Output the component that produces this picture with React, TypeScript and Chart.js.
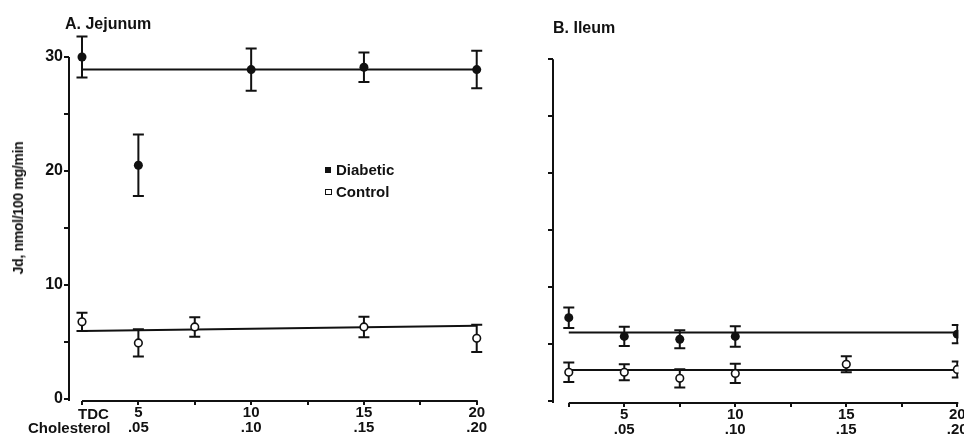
import React, { useEffect, useRef } from "react";
import { Chart, registerables } from "chart.js";

Chart.register(...registerables);

// ---- Data ----
const xTickPositions = [2.5, 5, 7.5, 10, 12.5, 15, 17.5, 20];
const xLabelPositions = [5, 10, 15, 20];
const tdcTickLabels = ["5", "10", "15", "20"];
const cholTickLabels = [".05", ".10", ".15", ".20"];
const yTickPositions = [0, 5, 10, 15, 20, 25, 30];
const yLabelPositions = [0, 10, 20, 30];
const fitX = [2.5, 20];

// A. Jejunum
const jejDiabeticX = [2.5, 5, 10, 15, 20];
const jejDiabeticY = [30, 20.5, 28.9, 29.1, 28.9];
const jejDiabeticErr = [1.8, 2.7, 1.85, 1.3, 1.65];
const jejControlX = [2.5, 5, 7.5, 15, 20];
const jejControlY = [6.75, 4.9, 6.3, 6.3, 5.3];
const jejControlErr = [0.8, 1.2, 0.85, 0.9, 1.2];
const jejDiabeticFit = [28.9, 28.9];
const jejControlFit = [5.95, 6.4];

// B. Ileum
const ilDiabeticX = [2.5, 5, 7.5, 10, 20];
const ilDiabeticY = [7.3, 5.65, 5.4, 5.65, 5.85];
const ilDiabeticErr = [0.9, 0.85, 0.8, 0.9, 0.8];
const ilControlX = [2.5, 5, 7.5, 10, 15, 20];
const ilControlY = [2.5, 2.5, 1.97, 2.4, 3.2, 2.75];
const ilControlErr = [0.85, 0.7, 0.8, 0.85, 0.7, 0.7];
const ilDiabeticFit = [6.0, 6.0];
const ilControlFit = [2.7, 2.7];

const INK = "#111";
const FONT = "'Liberation Sans', Arial, Helvetica, sans-serif";

const pts = (xs: number[], ys: number[]) => xs.map((x, i) => ({ x, y: ys[i] }));

const errorBarPlugin = {
  id: "errorBars",
  beforeDatasetsDraw(chart: any) {
    const { ctx, chartArea } = chart;
    const xs = chart.scales.x;
    const ys = chart.scales.y;
    ctx.save();
    ctx.beginPath();
    ctx.rect(chartArea.left, 0, chartArea.right - chartArea.left, chart.height);
    ctx.clip();
    ctx.strokeStyle = INK;
    ctx.lineWidth = 2;
    chart.data.datasets.forEach((ds: any) => {
      if (!ds.errors) return;
      ds.data.forEach((p: any, i: number) => {
        const e = ds.errors[i];
        const x = xs.getPixelForValue(p.x);
        const yt = ys.getPixelForValue(p.y + e);
        const yb = ys.getPixelForValue(p.y - e);
        ctx.beginPath();
        ctx.moveTo(x, yt);
        ctx.lineTo(x, yb);
        ctx.moveTo(x - 5.5, yt);
        ctx.lineTo(x + 5.5, yt);
        ctx.moveTo(x - 5.5, yb);
        ctx.lineTo(x + 5.5, yb);
        ctx.stroke();
      });
    });
    ctx.restore();
  },
};

const axisLinePlugin = {
  id: "axisLines",
  afterDraw(chart: any) {
    const { ctx, chartArea } = chart;
    const xs = chart.scales.x;
    const ys = chart.scales.y;
    ctx.save();
    ctx.strokeStyle = INK;
    ctx.lineWidth = 2;
    ctx.beginPath();
    ctx.moveTo(chartArea.left, ys.getPixelForValue(30));
    ctx.lineTo(chartArea.left, chartArea.bottom);
    ctx.moveTo(xs.getPixelForValue(2.5), chartArea.bottom);
    ctx.lineTo(Math.min(xs.getPixelForValue(20) + 1, chartArea.right), chartArea.bottom);
    ctx.stroke();
    ctx.restore();
  },
};

function makeConfig(opts: {
  dX: number[]; dY: number[]; dE: number[];
  cX: number[]; cY: number[]; cE: number[];
  dFit: number[]; cFit: number[];
  xMin: number; xMax: number; yMax: number;
  yWidth: number; xHeight: number; padRight: number; showYLabels: boolean;
}) {
  return {
    type: "scatter",
    data: {
      datasets: [
        {
          label: "Diabetic",
          data: pts(opts.dX, opts.dY),
          errors: opts.dE,
          pointRadius: 4.5,
          pointBackgroundColor: INK,
          pointBorderColor: INK,
          pointBorderWidth: 0,
          showLine: false,
          order: 1,
        },
        {
          label: "Control",
          data: pts(opts.cX, opts.cY),
          errors: opts.cE,
          pointRadius: 3.8,
          pointBackgroundColor: "#fff",
          pointBorderColor: INK,
          pointBorderWidth: 1.6,
          showLine: false,
          order: 1,
        },
        {
          label: "Diabetic fit",
          data: pts(fitX, opts.dFit),
          showLine: true,
          borderColor: INK,
          borderWidth: 2,
          pointRadius: 0,
          order: 2,
        },
        {
          label: "Control fit",
          data: pts(fitX, opts.cFit),
          showLine: true,
          borderColor: INK,
          borderWidth: 2,
          pointRadius: 0,
          order: 2,
        },
      ],
    },
    options: {
      animation: false,
      responsive: false,
      maintainAspectRatio: false,
      layout: { padding: { top: 28, left: 0, right: opts.padRight, bottom: 0 } },
      plugins: { legend: { display: false }, tooltip: { enabled: false }, title: { display: false } },
      scales: {
        x: {
          type: "linear",
          min: opts.xMin,
          max: opts.xMax,
          afterBuildTicks: (s: any) => {
            s.ticks = xTickPositions.map((v) => ({ value: v }));
          },
          afterFit: (s: any) => {
            s.height = opts.xHeight;
            s.paddingLeft = 0;
            s.paddingRight = 0;
          },
          grid: { display: true, drawOnChartArea: false, drawTicks: true, tickLength: 4, color: INK, lineWidth: 2 },
          border: { display: false },
          ticks: {
            autoSkip: false,
            maxRotation: 0,
            padding: 0,
            color: INK,
            font: { family: FONT, size: 15, weight: "bold", lineHeight: 1.0 },
            callback: (v: any) => {
              const i = xLabelPositions.indexOf(Number(v));
              return i >= 0 ? [tdcTickLabels[i], cholTickLabels[i]] : "";
            },
          },
        },
        y: {
          type: "linear",
          min: -0.2,
          max: opts.yMax,
          afterBuildTicks: (s: any) => {
            s.ticks = yTickPositions.map((v) => ({ value: v }));
          },
          afterFit: (s: any) => {
            s.width = opts.yWidth;
            s.paddingTop = 0;
            s.paddingBottom = 0;
          },
          grid: { display: true, drawOnChartArea: false, drawTicks: true, tickLength: 5, color: INK, lineWidth: 2 },
          border: { display: false },
          ticks: {
            autoSkip: false,
            padding: 1,
            color: INK,
            font: { family: FONT, size: 16, weight: "bold" },
            callback: (v: any) => (opts.showYLabels && yLabelPositions.includes(Number(v)) ? String(v) : ""),
          },
        },
      },
    },
    plugins: [errorBarPlugin, axisLinePlugin],
  } as any;
}

const txt = (extra: React.CSSProperties): React.CSSProperties => ({
  position: "absolute",
  fontFamily: FONT,
  fontWeight: "bold",
  color: INK,
  whiteSpace: "nowrap",
  ...extra,
});

export default function App() {
  const refA = useRef<HTMLCanvasElement>(null);
  const refB = useRef<HTMLCanvasElement>(null);

  useEffect(() => {
    const a = new Chart(
      refA.current!,
      makeConfig({
        dX: jejDiabeticX, dY: jejDiabeticY, dE: jejDiabeticErr,
        cX: jejControlX, cY: jejControlY, cE: jejControlErr,
        dFit: jejDiabeticFit, cFit: jejControlFit,
        xMin: 1.924, xMax: 20.5, yMax: 32.55,
        yWidth: 69, xHeight: 36, padRight: 12, showYLabels: true,
      })
    );
    const b = new Chart(
      refB.current!,
      makeConfig({
        dX: ilDiabeticX, dY: ilDiabeticY, dE: ilDiabeticErr,
        cX: ilControlX, cY: ilControlY, cE: ilControlErr,
        dFit: ilDiabeticFit, cFit: ilControlFit,
        xMin: 1.789, xMax: 20.05, yMax: 32.75,
        yWidth: 73, xHeight: 34, padRight: 0, showYLabels: false,
      })
    );
    return () => {
      a.destroy();
      b.destroy();
    };
  }, []);

  return (
    <div style={{ position: "fixed", left: 0, top: 0, width: 964, height: 437, background: "#fff", overflow: "hidden" }}>
      <canvas ref={refA} width={500} height={437} style={{ position: "absolute", left: 0, top: 0 }} />
      <canvas ref={refB} width={484} height={437} style={{ position: "absolute", left: 480, top: 0 }} />
      <div style={txt({ left: 65, top: 16, fontSize: 16, lineHeight: "16px" })}>A. Jejunum</div>
      <div style={txt({ left: 553, top: 20, fontSize: 16, lineHeight: "16px" })}>B. Ileum</div>
      <div
        style={txt({
          left: 18,
          top: 208,
          fontSize: 14,
          lineHeight: "14px",
          letterSpacing: "-0.3px",
          transform: "translate(-50%, -50%) rotate(-90deg)",
        })}
      >
        Jd, nmol/100 mg/min
      </div>
      <div style={{ position: "absolute", left: 325, top: 167, width: 6, height: 6, background: INK }} />
      <div style={txt({ left: 336, top: 162, fontSize: 15, lineHeight: "15px" })}>Diabetic</div>
      <div style={{ position: "absolute", left: 325, top: 189, width: 5, height: 4, border: `1px solid ${INK}` }} />
      <div style={txt({ left: 336, top: 184, fontSize: 15, lineHeight: "15px" })}>Control</div>
      <div style={txt({ left: 78, top: 406, fontSize: 15, lineHeight: "15px" })}>TDC</div>
      <div style={txt({ left: 28, top: 420, fontSize: 15, lineHeight: "15px" })}>Cholesterol</div>
    </div>
  );
}
